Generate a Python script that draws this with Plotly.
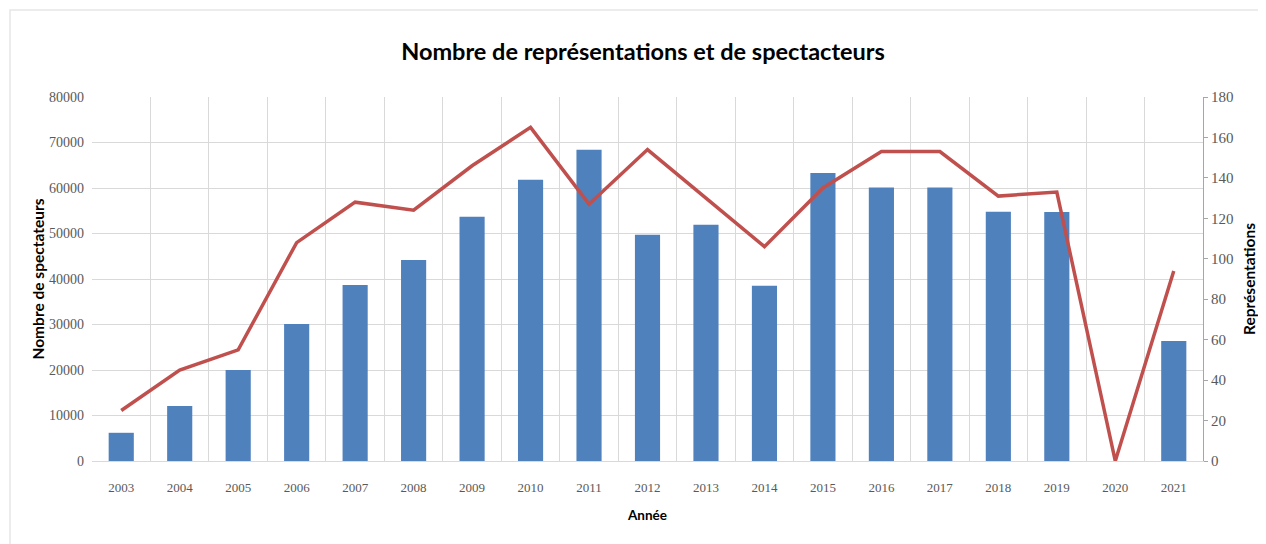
import plotly.graph_objects as go

# Données
annees = [str(a) for a in range(2003, 2022)]
spectateurs = [6200, 12100, 20000, 30100, 38700, 44200, 53700, 61800, 68400, 49700,
               51900, 38500, 63300, 60100, 60100, 54800, 54700, 0, 26400]
representations = [25, 45, 55, 108, 128, 124, 146, 165, 127, 154,
                    130, 106, 135, 153, 153, 131, 133, 0, 94]

BLEU = '#4F81BD'
ROUGE = '#C0504D'
GRILLE = '#D9D9D9'
TEXTE = '#595959'
ETROITE = 'Liberation Sans Narrow'

fig = go.Figure()

# Spectateurs (barres, axe gauche)
fig.add_trace(go.Bar(
    x=annees, y=spectateurs,
    name='Spectateurs',
    marker=dict(color=BLEU, line=dict(width=0)),
    yaxis='y'
))

# Représentations (ligne, axe droit)
fig.add_trace(go.Scatter(
    x=annees, y=representations,
    name='Représentations',
    mode='lines',
    line=dict(color=ROUGE, width=3.5),
    yaxis='y2'
))

fig.update_layout(
    width=1266, height=544,
    paper_bgcolor='white', plot_bgcolor='white',
    showlegend=False,
    bargap=0.57,
    margin=dict(l=84, r=71, t=89, b=91),
    title=dict(text='<b>Nombre de représentations et de spectacteurs</b>',
               x=0.5016, xanchor='center', y=0.919, yanchor='middle',
               font=dict(family='Lato', size=23.5, color='black')),
    font=dict(family=ETROITE, color=TEXTE, size=13),
    xaxis=dict(
        type='category',
        tickson='boundaries',
        showgrid=True, gridcolor=GRILLE, gridwidth=1,
        showline=True, linecolor=GRILLE,
        ticks='', ticklabelstandoff=14,
        tickfont=dict(family=ETROITE, size=13, color=TEXTE),
        title=dict(text='<b>Année</b>', standoff=16,
                   font=dict(family='Lato', size=13.5, color='black')),
    ),
    yaxis=dict(
        range=[0, 80000], dtick=10000, tickformat='d',
        showgrid=True, gridcolor=GRILLE, gridwidth=1,
        zeroline=False, showline=False,
        tickfont=dict(family=ETROITE, size=14, color=TEXTE),
        ticksuffix='  ',
        title=dict(text='<b>Nombre de spectateurs</b>', standoff=0,
                   font=dict(family='Lato', size=15.5, color='black')),
    ),
    yaxis2=dict(
        range=[0, 180], dtick=20,
        overlaying='y', side='right',
        showgrid=False, zeroline=False,
        showline=True, linecolor='#A6A6A6',
        ticks='outside', ticklen=4, tickcolor='#A6A6A6',
        tickfont=dict(family=ETROITE, size=15, color=TEXTE),
        title=dict(text='<b>Représentations</b>', standoff=11,
                   font=dict(family='Lato', size=15.5, color='black')),
    ),
    shapes=[dict(type='rect', xref='paper', yref='paper',
                 x0=-0.0738, x1=1.053, y0=-0.35, y1=1.239,
                 line=dict(color='#E6E6E6', width=1.5))],
)

fig.write_html('out.html')
